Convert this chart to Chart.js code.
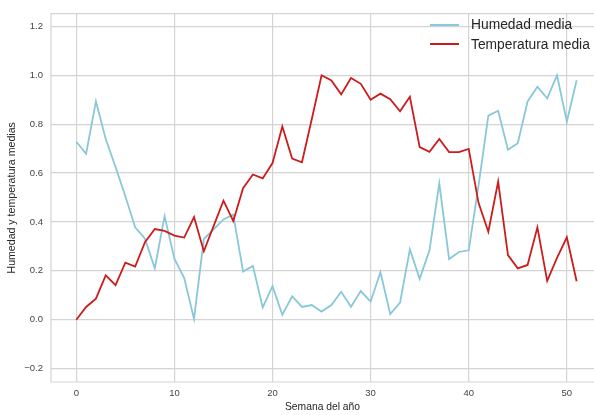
<!DOCTYPE html>
<html lang="es">
<head>
    <meta charset="UTF-8">
    <script src="https://cdn.jsdelivr.net/npm/chart.js"></script>
    <title>Humedad y temperatura medias</title>
    <style>
        html, body {
            margin: 0;
            padding: 0;
            background: #ffffff;
            overflow: hidden;
        }
        #wrap {
            position: relative;
            width: 594px;
            height: 415px;
        }
        #legend {
            position: absolute;
            left: 430px;
            top: 15px;
            font-family: "Liberation Sans", Arial, sans-serif;
            font-size: 13.8px;
            color: #262626;
        }
        .row {
            display: flex;
            align-items: center;
            height: 19.6px;
        }
        .swatch {
            width: 29px;
            height: 2px;
            margin-right: 12px;
        }
    </style>
</head>
<body>
    <div id="wrap">
        <canvas id="chart" width="594" height="415"></canvas>
        <div id="legend"></div>
    </div>

    <script>
        // semanas del año
        const semanas = [];
        for (let i = 0; i < 52; i++) semanas.push(i);

        const humedad = [
            0.728, 0.679, 0.893, 0.739, 0.625, 0.505, 0.378, 0.331, 0.21, 0.424,
            0.25, 0.17, 0.003, 0.33, 0.37, 0.41, 0.43, 0.197, 0.22, 0.05,
            0.137, 0.02, 0.096, 0.052, 0.06, 0.033, 0.06, 0.114, 0.053, 0.117,
            0.074, 0.194, 0.023, 0.07, 0.288, 0.167, 0.284, 0.558, 0.248, 0.277,
            0.284, 0.55, 0.835, 0.855, 0.695, 0.722, 0.893, 0.953, 0.906, 1.0,
            0.81, 0.98
        ];

        const temperatura = [
            0.0, 0.052, 0.086, 0.181, 0.141, 0.233, 0.217, 0.317, 0.371, 0.363,
            0.344, 0.336, 0.42, 0.28, 0.384, 0.487, 0.404, 0.538, 0.594, 0.578,
            0.641, 0.79, 0.659, 0.644, 0.82, 1.0, 0.979, 0.922, 0.989, 0.965,
            0.9, 0.925, 0.902, 0.853, 0.912, 0.706, 0.687, 0.739, 0.686, 0.686,
            0.699, 0.478, 0.36, 0.565, 0.264, 0.21, 0.224, 0.378, 0.159, 0.253,
            0.337, 0.157
        ];

        const xTicks = [0, 10, 20, 30, 40, 50];
        const yTicks = [-0.2, 0.0, 0.2, 0.4, 0.6, 0.8, 1.0, 1.2];

        const colorHumedad = '#88c8d9';
        const colorTemp = '#cc1c1c';
        const gridColor = '#d4d4d4';
        const font = '"Liberation Sans", Arial, sans-serif';

        // borde superior, izquierdo e inferior (la figura queda cortada a la derecha)
        const frame = {
            id: 'frame',
            afterDraw(chart) {
                const a = chart.chartArea;
                const c = chart.ctx;
                c.save();
                c.strokeStyle = gridColor;
                c.lineWidth = 1.2;
                c.beginPath();
                c.moveTo(a.right + 2, a.top);
                c.lineTo(a.left, a.top);
                c.lineTo(a.left, a.bottom);
                c.lineTo(a.right + 2, a.bottom);
                c.stroke();
                c.restore();
            }
        };

        const datasets = [
            {
                label: 'Humedad media',
                data: semanas.map((s, i) => ({ x: s, y: humedad[i] })),
                borderColor: colorHumedad,
                backgroundColor: colorHumedad,
                borderWidth: 1.8,
                pointRadius: 0,
                tension: 0,
                order: 2
            },
            {
                label: 'Temperatura media',
                data: semanas.map((s, i) => ({ x: s, y: temperatura[i] })),
                borderColor: colorTemp,
                backgroundColor: colorTemp,
                borderWidth: 1.8,
                pointRadius: 0,
                tension: 0,
                order: 1
            }
        ];

        new Chart(document.getElementById('chart'), {
            type: 'line',
            data: { datasets: datasets },
            options: {
                responsive: false,
                animation: false,
                layout: { padding: { top: 7, right: 0, bottom: 0, left: 0 } },
                plugins: {
                    legend: { display: false },
                    tooltip: { enabled: false }
                },
                scales: {
                    x: {
                        type: 'linear',
                        min: -2.58,
                        max: 52.77,
                        afterBuildTicks: s => { s.ticks = xTicks.map(v => ({ value: v })); },
                        afterFit: s => { s.height = 33; },
                        grid: { color: gridColor, lineWidth: 1.2, drawTicks: false },
                        border: { display: false },
                        ticks: {
                            padding: 6,
                            color: '#444',
                            font: { family: font, size: 9.5 },
                            maxRotation: 0
                        },
                        title: {
                            display: true,
                            text: 'Semana del año',
                            color: '#262626',
                            font: { family: font, size: 10.3 },
                            padding: { top: 0, bottom: 2 }
                        }
                    },
                    y: {
                        min: -0.255,
                        max: 1.252,
                        afterBuildTicks: s => { s.ticks = yTicks.map(v => ({ value: v })); },
                        afterFit: s => { s.width = 51; },
                        grid: { color: gridColor, lineWidth: 1.2, drawTicks: false },
                        border: { display: false },
                        ticks: {
                            padding: 8,
                            color: '#444',
                            font: { family: font, size: 9.5 },
                            callback: v => v.toFixed(1).replace('-', '\u2212')
                        },
                        title: {
                            display: true,
                            text: 'Humedad y temperatura medias',
                            color: '#262626',
                            font: { family: font, size: 10.6 },
                            padding: { top: 6, bottom: 0 }
                        }
                    }
                }
            },
            plugins: [frame]
        });

        // leyenda
        const legend = document.getElementById('legend');
        datasets.forEach(d => {
            const row = document.createElement('div');
            row.className = 'row';
            const sw = document.createElement('span');
            sw.className = 'swatch';
            sw.style.background = d.borderColor;
            const txt = document.createElement('span');
            txt.textContent = d.label;
            row.appendChild(sw);
            row.appendChild(txt);
            legend.appendChild(row);
        });
    </script>
</body>
</html>
